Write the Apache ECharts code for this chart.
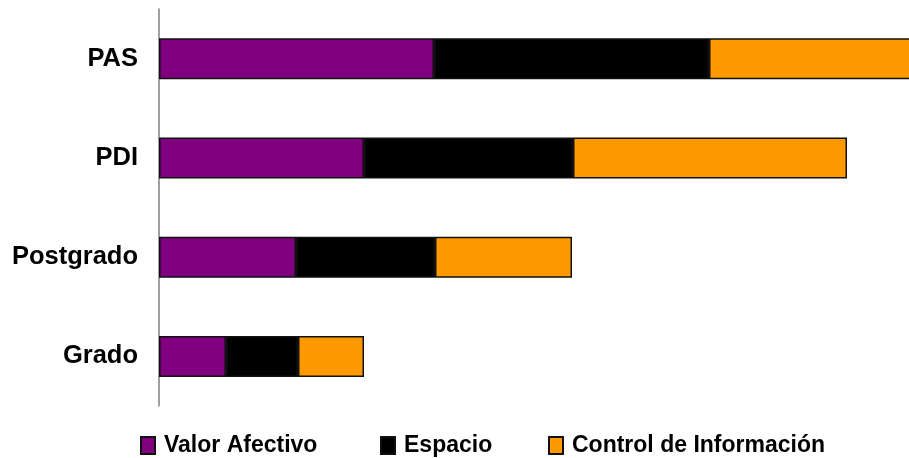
<!DOCTYPE html>
<html>
<head>
<meta charset="utf-8">
<script src="https://cdn.jsdelivr.net/npm/echarts@6/dist/echarts.min.js"></script>
<style>
html,body{margin:0;padding:0;background:#fff;}
#c{width:909px;height:458px;}
</style>
</head>
<body>
<div id="c"></div>
<script>
var categories = ['Grado', 'Postgrado', 'PDI', 'PAS'];
var valorAfectivo = [6.7, 13.7, 20.5, 27.5];
var espacio = [7.2, 13.9, 20.9, 27.5];
var controlInformacion = [6.6, 13.7, 27.4, 27.5];
var seriesNames = ['Valor Afectivo', 'Espacio', 'Control de Información'];
var seriesColors = ['#800080', '#000000', '#FF9900'];
var seriesData = [valorAfectivo, espacio, controlInformacion];

var chart = echarts.init(document.getElementById('c'));
var font = '"Liberation Sans", Arial, sans-serif';
var legendLefts = [140, 380, 548];
chart.setOption({
  animation: false,
  textStyle: {fontFamily: font},
  grid: {left: 159, width: 850, top: 9, bottom: 52, outerBoundsMode: 'none', containLabel: false},
  xAxis: {
    type: 'value', min: 0, max: 85,
    show: false
  },
  yAxis: {
    type: 'category',
    data: categories,
    axisLine: {show: true, lineStyle: {color: '#808080', width: 1.5}},
    axisTick: {show: false},
    axisLabel: {color: '#000', fontWeight: 'bold', fontSize: 25.5, margin: 21, fontFamily: font}
  },
  legend: seriesNames.map(function (n, i) {
    return {
      left: legendLefts[i], top: 434, padding: 0,
      icon: 'rect',
      itemWidth: 14, itemHeight: 17,
      textStyle: {color: '#000', fontWeight: 'bold', fontSize: 23, fontFamily: font, padding: [0, 0, 0, 4]},
      data: [n]
    };
  }),
  series: seriesNames.map(function (n, i) {
    return {
      name: n, type: 'bar', stack: 'total',
      barWidth: 41,
      data: seriesData[i],
      itemStyle: {color: seriesColors[i], borderColor: '#111', borderWidth: 1.5}
    };
  })
});
</script>
</body>
</html>
